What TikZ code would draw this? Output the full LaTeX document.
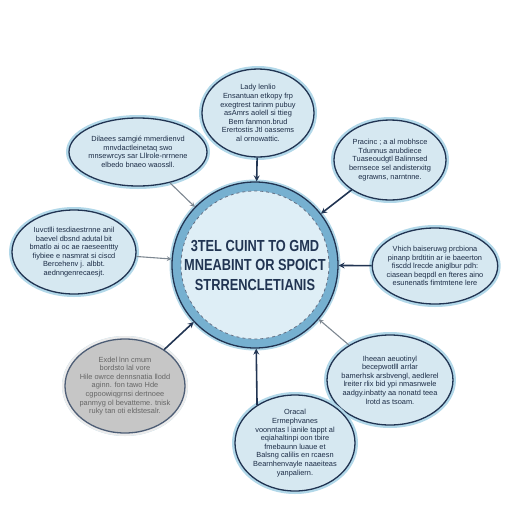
\documentclass[tikz,border=0pt]{standalone}
\usepackage{fontspec}
\setmainfont{Liberation Sans}
\newfontfamily\condfont[FakeStretch=0.8]{Liberation Sans}
\usetikzlibrary{shapes,arrows}
\usetikzlibrary{calc}
\definecolor{navy}{RGB}{33,52,82}
\definecolor{ringblue}{RGB}{118,176,208}
\definecolor{corefill}{RGB}{222,238,246}
\definecolor{satfill}{RGB}{214,232,241}
\definecolor{halo}{RGB}{178,216,233}
\definecolor{linkgray}{RGB}{125,135,145}
\tikzstyle{bubble} = [ellipse, draw=navy, line width=1.3pt, fill=satfill,
    text=navy!85!black, align=center, inner sep=-4pt, font=\fontsize{7.4}{8.6}\selectfont,
    preaction={draw=halo, line width=6pt}]
\tikzstyle{link} = [->, >=stealth, line width=1.6pt, navy]

\begin{document}
\begin{tikzpicture}[x=1pt, y=-1pt]
    \useasboundingbox (0,0) rectangle (512,512);
    % hub
    \node [circle, draw=navy, line width=1.3pt, fill=ringblue, minimum size=166pt,
        preaction={draw=halo, line width=5pt}] (centre) at (255,265) {};
    \node [circle, draw=navy!70, dashed, line width=0.8pt, fill=corefill,
        minimum size=148pt, inner sep=-10pt, align=center, text=navy,
        font=\condfont\bfseries\fontsize{16}{19.5}\selectfont] (core) at (255,265)
        {3TEL CUINT TO GMD\\ MNEABINT OR SPOICT\\ STRRENCLETIANIS};
    % satellites
    \node [bubble, minimum width=112pt, minimum height=88pt] (top) at (258,113)
        {Lady lenlio\\ Ensantuan etkopy frp\\ exegtrest tarinm pubuy\\ asAmrs aolell si ttieg\\
        Bem fanmon.brud\\ Erertostis Jtl oassems\\ al ornowattic.};
    \node [bubble, minimum width=138pt, minimum height=68pt] (upleft) at (138,152)
        {Dilaees samgi\'e mmerdienvd\\ mnvdactleinetaq swo\\ mnsewrcys sar Lllrole-nrrnene\\
        elbedo bnaeo waossll.};
    \node [bubble, minimum width=112pt, minimum height=80pt] (upright) at (390,160)
        {Pracinc ; a al mobhsce\\ Tdunnus arubdiece\\ Tuaseoudgtl Balinnsed\\
        bernsece sel andisterxitg\\ egrawns, narntnne.};
    \node [bubble, minimum width=124pt, minimum height=84pt] (left) at (74,252)
        {Iuvctlli tesdiaestrnne anil\\ baevel dbsnd adutal bit\\ bmatlo ai oc ae raeseenttty\\
        fiybiee e nasmrat si ciscd\\ Bercehenv j. albbt.\\ aednngenrecaesjt.};
    \node [bubble, minimum width=110pt, minimum height=76pt] (right) at (435,266)
        {Vhich baiseruwg prcbiona\\ pinanp brdtitin ar ie baeerton\\ fiscdd lrecde aniglbur pdh:\\
        ciasean beqpdl en fteres aino\\ esunenatls fimtmtene lere};
    \node [bubble, minimum width=120pt, minimum height=94pt, fill=gray!45, draw=navy!80,
        text=black!60, preaction={draw=gray!15, line width=6pt}] (lowleft) at (125,386)
        {Exdel lnn cmum\\ bordsto lal vore\\ Hile owrce dennsnatia llodd\\ aginn. fon tawo Hde\\
        cgpoowiqgrnsi dertnoee\\ panmyg ol bevatteme. tnisk\\ ruky tan oti eldstesalr.};
    \node [bubble, minimum width=114pt, minimum height=90pt] (lowright) at (390,380)
        {Iheean aeuotinyl\\ becepwotlll arrlar\\ bamerhsk arsbvengl, aedlerel\\
        lreiter rlix bid ypi nmasnwele\\ aadgy.inbatty aa nonatd teea\\ lrotd as tsoam.};
    \node [bubble, minimum width=120pt, minimum height=96pt] (bottom) at (295,443)
        {Oracal\\ Ermephvanes\\ voonntas l ianile tappt al\\ eqiahaltinpi oon tbire\\
        fmebaunn luaue et\\ Balsng calilis en rcaesn\\ Bearnhenvayle naaeiteas\\ yanpaliern.};
    % Draw edges
    \draw [link] (top) -- (centre);
    \draw [link, linkgray, line width=1.1pt] (upleft) -- (centre);
    \draw [link] (upright) -- (centre);
    \draw [link, linkgray, line width=1.1pt] (left) -- (centre);
    \draw [link] (right) -- (centre);
    \draw [link] (lowleft) -- (centre);
    \draw [link, linkgray, line width=1.1pt] (lowright) -- (centre);
    \draw [link] (bottom.135) -- (centre);
\end{tikzpicture}
\end{document}
